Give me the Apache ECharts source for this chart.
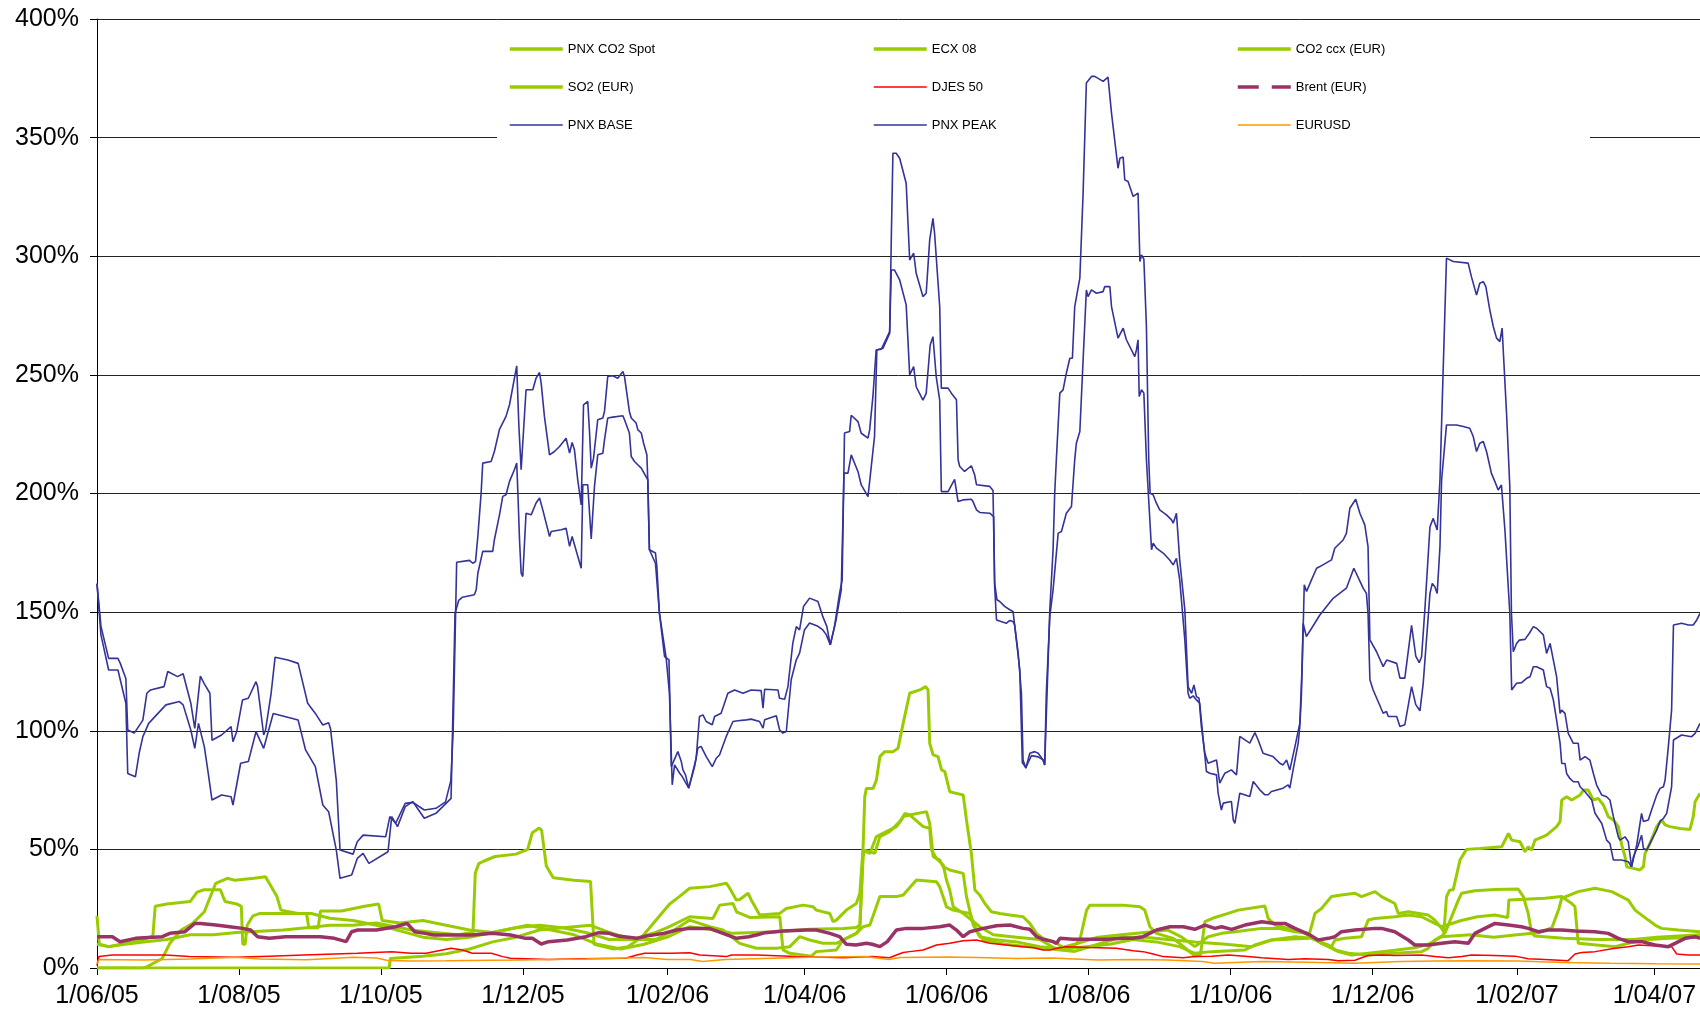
<!DOCTYPE html>
<html>
<head>
<meta charset="utf-8">
<title>Volatility</title>
<script src="https://cdn.jsdelivr.net/npm/echarts@6/dist/echarts.min.js"></script>
<style>
  html, body { margin: 0; padding: 0; background: #fff; }
  #chart { width: 1700px; height: 1015px; }
</style>
</head>
<body>
<div id="chart"></div>
<script>
// x = days since 1 Jun 2005, y = percent
const tickDays = [0, 61, 122, 183, 245, 304, 365, 426, 487, 548, 610, 669]
const tickLabels = ['1/06/05', '1/08/05', '1/10/05', '1/12/05', '1/02/06', '1/04/06',
  '1/06/06', '1/08/06', '1/10/06', '1/12/06', '1/02/07', '1/04/07']

const co2Spot = [[0,10],[5,9],[12,10],[20,11],[30,12],[40,14],[50,14],[60,15],[70,15.5],[80,16],[90,17],[100,18],[110,18],[120,19],[125,18],[135,16],[145,15],[155,14],[161.5,15],[162.5,40],[164,44],[166,45],[171,47],[180,48],[185,50],[187,57],[190,59],[191,58],[193,43],[196,38],[205,37],[212,36.5],[213.5,10],[222,8],[228,9],[234,13],[240,20],[246,27],[250,30],[254.6,33.6],[263.2,34.3],[270.4,35.7],[271.8,33.6],[274.7,28.6],[276.1,28.9],[279.7,31.5],[281.1,28.6],[284.7,22.3],[293.3,23],[296.1,25.1],[303.3,26.5],[307.6,25.8],[309,24.4],[314.8,23],[316.2,19.5],[317.6,20.2],[321.9,24.4],[326.2,27.2],[327.7,31.5],[329.1,51.1],[329.8,72.2],[330.5,75.7],[333.4,75.7],[334.8,79.2],[336.3,89.1],[338.4,91.2],[342,91.2],[344.1,92.6],[346.3,103.1],[349.1,115.8],[353.4,117.2],[356,118.6],[357,117.2],[357.7,94.7],[359.2,89.8],[361.3,89.1],[362.8,83.5],[364.2,82.8],[366.3,74.3],[369.2,73.6],[372.1,72.9],[373.5,62.4],[375.6,48.3],[377.1,32.9],[379.2,30.8],[381.4,27.2],[384.2,23.7],[387.8,23],[392.1,22.3],[397.8,21.6],[400.7,18.8],[403.6,14.6],[406.4,12.5],[412.2,10.4],[416.5,7.6],[419.3,9],[422.2,11.8],[425.1,24.4],[426.5,26.5],[440.8,26.5],[448,25.8],[450.1,24.4],[452.3,17.4],[455.1,14.6],[462.3,12.5],[468,8],[471.6,5],[474,5.5],[475.9,19.5],[480.2,21.3],[485.9,23],[490.2,24.4],[501.7,26.1],[503.1,20.9],[506,18.1],[511.7,16.7],[518.9,14.6],[521,13.2],[526,10.4],[531.8,7.6],[537.5,6.2],[546.1,5.5],[557.5,6.2],[569,6.9],[571.9,8.3],[574.7,11.8],[578.5,14],[579.7,30],[581,32.8],[582.6,33],[585.5,45.5],[588.3,50],[594.1,50.4],[603.4,51.1],[606.3,56.7],[607.7,53.9],[611.3,53.2],[613.4,49],[614.8,51.1],[616.3,49.7],[617.7,53.9],[622.7,56],[627,59.6],[628.5,61.7],[629.2,70.8],[631.3,72.2],[633.5,70.8],[637.1,72.9],[638.5,75],[640.6,75],[642.8,70.8],[644.9,71.5],[647.1,68.7],[649.2,63.8],[651.4,62.4],[653.5,59.6],[655,51.8],[656.4,46.9],[657.1,42.7],[660,42],[662.8,41.3],[664.3,42.7],[665,48.3],[667.1,52.5],[670,59.6],[672.1,62.4],[673.6,60.3],[675.7,59.6],[680,58.8],[684.3,58.4],[685.7,63.8],[686.5,70.1],[688.6,73.6]]

const ecx08 = [[0,22],[1,10],[5,9],[15,11],[20,12],[24,13.5],[25,26],[30,27],[40,28],[43,32],[46,33],[53,33],[55,28],[60,27],[62,26],[62.6,10],[63.6,10],[64.5,18],[67,22],[70,23],[90,23],[91,17],[95,17],[96,24],[105,24],[115,26],[121,27],[122.5,20],[130,19],[140,20],[150,18],[160,16],[170,15],[180,17],[190,18],[200,17],[210,15],[220,12],[230,12],[240,15],[245,17],[254.6,21.6],[264.6,20.9],[267.5,26.5],[273.2,27.2],[274.7,23.7],[280.4,21.3],[293.3,21.6],[294.7,7.6],[297.6,6.2],[306.9,5],[309,6.9],[317.6,7.6],[320.5,11.8],[326.2,14.6],[327.7,16.7],[329.1,46.9],[329.8,49.7],[334.1,48.3],[336.3,55.4],[340.5,57.5],[344.8,61.7],[346.3,63.8],[349.1,64.5],[356.3,65.9],[357.7,61],[359.2,46.9],[362,45.5],[363.5,42.7],[366.3,41.3],[372.1,39.9],[373.5,30.1],[376.4,18.1],[379.2,13.2],[385,12],[395,11],[405,9],[415,8],[425,9],[435,10],[445,12],[455,11],[465,9],[471.6,6.2],[478.8,6.9],[493.1,7.6],[497.4,9.7],[504.5,11.8],[514.6,13.2],[521.7,12.5],[528.9,9.7],[533.2,6.9],[538.9,5.5],[546.1,6.2],[557.5,7.5],[566.1,8.5],[571.9,10],[577.6,13.2],[590,14],[600,13],[610,14],[620,15],[625,17],[628,25],[629.2,29.4],[636.3,32.2],[643.5,33.6],[650.7,32.2],[657.8,28.6],[660.7,24.4],[666.4,20.2],[669.3,18.1],[672.1,16.7],[679.3,16],[688.6,15.3]]

const co2Ccx = [[0,0],[20,0],[21.4,0.5],[28,4],[31.3,10.4],[36.2,16],[41.1,18.8],[46.1,23.7],[51,35.7],[56,37.8],[59.2,37],[67.4,37.8],[72.4,38.5],[74,35.7],[77.3,30.1],[79,24.4],[86.4,23],[92.1,23],[100,21],[110,20],[120,18],[125,17],[140,13],[150,12],[160,13],[175,16],[185,18],[195,16],[205,14],[215,10],[225,8],[235,10],[245,13],[254.6,17.4],[266,16],[273.2,14.6],[291.8,15.3],[306.2,16.3],[320.5,16.7],[326.2,17.1],[327.7,18.1],[329.1,49.7],[332,48.3],[334.8,55.4],[343.4,59.6],[345.6,62.4],[347,65.2],[349.1,64.5],[354.9,59.6],[357.7,58.9],[358.5,49.7],[360.6,46.2],[363.5,43.4],[364.9,37.1],[366.3,32.9],[367.8,25.8],[372.1,23],[379.2,17.4],[385,14],[395,13],[405,12],[412,8],[420,10],[430,13],[440,14],[450,15],[460,16],[466,13],[471.6,9],[477.3,13.2],[483.1,14.6],[488.8,15.3],[500.3,16.7],[507.4,16.7],[514.6,15.3],[520.3,14.6],[526,10.4],[530.3,9],[531.8,11.8],[536.1,12.5],[543.2,13.2],[546.1,20.2],[549,20.9],[557.5,21.6],[563.3,22.3],[569,21.6],[574.7,18.8],[577.6,17.4],[586,20],[593,21.6],[600.5,22.3],[606,21.3],[606.5,28.7],[622,29.4],[629.2,30.1],[633.5,27.2],[634.9,25.8],[636.3,10.4],[652.1,9],[663.5,11.8],[675,12.5],[688.6,13]]

const so2 = [[0,0],[125.5,0],[126,4],[140,5],[150,6],[160,8],[170,11],[180,13],[190,16],[200,17],[212,18],[220,15],[230,12],[240,12],[248,16],[254.6,20.2],[263.2,17.4],[268.9,16],[276.1,10.4],[283.3,8.3],[291.8,8.3],[297.6,9],[301.9,13.2],[306.2,11.8],[311.9,10.4],[317.6,10.4],[321.9,12.5],[326.2,14.6],[329.1,17.4],[332,18.1],[336.3,30.1],[343.4,30.1],[346.3,30.8],[352,37.1],[360.6,36.4],[362,34.3],[364.9,25.8],[367.8,24.4],[374.9,23],[377.8,16],[380.7,11.8],[390,10],[400,9],[410,8],[420,7],[430,10],[440,13],[450,13],[460,12],[471.6,11],[485,10],[496,9],[504.5,11.8],[520.3,12.5],[523.2,23],[526,25.1],[530.3,30.1],[534.6,30.8],[540.4,31.5],[543.2,30.1],[549,32.2],[551.8,30.1],[554.7,28.6],[557.5,27.2],[559,23],[563.3,23.7],[571.9,22.3],[574.7,20.2],[577.6,16.7],[579,14.6],[584.8,28.6],[586.2,31.5],[591.9,32.6],[600.5,33.1],[610.5,33.3],[612.7,30.1],[614.8,23],[616.3,14.6],[617.7,13.5],[630,12.5],[645,12],[660,12],[670,13],[688.6,14]]

const djes50 = [[0,1],[0.8,4.8],[6.6,5.5],[29.6,5.5],[39.5,4.8],[59.2,4.5],[74,5],[88.8,5.5],[111.8,6.2],[126.6,6.9],[134.9,6.2],[141.4,6.2],[152.1,8.3],[157.1,7.6],[161.2,6.2],[169.4,6.2],[174.3,4.8],[177.6,4.1],[194.1,3.6],[207.2,3.9],[227,4.1],[231.9,5.5],[235.2,6.2],[246.7,6.2],[254.6,6.4],[259,5.5],[270.4,4.8],[272.5,5.5],[283.3,5.5],[300.4,4.8],[320.5,4.3],[333,4.8],[340.5,4.3],[343.4,5.5],[346.3,6.5],[349.1,6.9],[354.9,7.6],[360.6,9.7],[366.3,10.4],[372.1,11.5],[377.8,11.8],[383.5,10.4],[390.6,9.7],[397.8,9],[402,8.6],[406.4,7.6],[409.3,7.6],[412.2,8.3],[416.5,9],[426.5,8.6],[437.9,8.3],[445.1,7.3],[449.4,6.9],[453.7,5.9],[458,4.8],[466.6,4.3],[471.6,4.8],[478.8,5],[485.9,5.5],[493.1,5],[500.3,4.3],[511.7,3.6],[518.9,3.9],[528.9,3.6],[533.2,3.1],[540.4,3.3],[543.2,4.3],[546.1,5.3],[551.8,5.5],[557.5,5.3],[569,5.5],[574.7,4.8],[580.5,4.3],[586.2,4.8],[590.4,5.5],[600.5,5.3],[609.1,5],[614.8,3.9],[621.9,3.6],[632,3.1],[634.9,5.9],[637.8,6.5],[643.5,6.9],[652.1,8.3],[657.8,9],[662.1,9.7],[676.4,9],[678.6,5.9],[683.6,5.5],[688.6,5.5]]

const brent = [[0,13.2],[6.6,13.2],[9.9,11.1],[16.5,12.5],[28,13.2],[31.3,14.6],[37.8,15.3],[42,18.8],[44.4,18.8],[51,18.1],[57,17.4],[62.5,16.7],[66,16],[69,13.2],[74,12.5],[81,13.2],[88.8,13.2],[96,13.2],[102,12.5],[107,11.1],[109.4,15.3],[112,16],[120,16],[128.3,17.4],[133.2,18.8],[136.5,15.3],[141,14.6],[144.7,13.9],[161,13.9],[170,14.6],[177.6,13.9],[184.2,12.5],[187,12.5],[190.8,10.1],[194,11.1],[202,11.8],[210,13.2],[215.5,14.9],[220,14.6],[223.7,13.5],[231.9,12.5],[236,13.5],[243.4,14.6],[249,16],[254.6,16.7],[263,16.7],[268.9,14.6],[274.7,12.5],[280,13.2],[283.3,13.9],[287,14.9],[294.7,15.6],[304.7,16],[309,16],[314.8,14.6],[319,13.2],[321.9,10],[326,9.7],[330.5,10.4],[333,10],[336.3,9],[339.5,11.1],[343.4,16],[347.6,16.7],[354.9,16.7],[362,17.4],[366.3,18.1],[369.2,16],[372.1,13.2],[375,15.3],[380.7,16.7],[386.4,17.8],[392.1,18.1],[397.8,16.7],[400.7,16.3],[403.6,13.2],[406.4,12.1],[410.8,11.1],[412.2,10.4],[413.6,12.5],[419.3,12.1],[426.5,12.1],[433.6,12.1],[440.8,12.5],[445,12.5],[449.4,13.2],[455.1,16],[460.9,17.4],[466.6,17.4],[471.6,16.3],[475.9,18.1],[480.2,16.7],[483.1,17.4],[487.4,16.3],[493.1,18.1],[500.3,19.5],[506,18.8],[510.3,18.8],[514.6,16.7],[520.3,14.3],[524.6,11.8],[528.9,12.5],[531.8,13.2],[534.6,15.3],[540.4,16],[549,16.7],[551.8,16.7],[557.5,15.3],[563.3,11.8],[566.1,9.7],[571.9,9.7],[577.6,10.4],[583.3,11.1],[589.1,10.4],[591.9,14.6],[596.2,16.7],[600.5,18.8],[606.3,18.1],[611.9,17.4],[614.8,16.7],[619.1,15.3],[623.4,16],[629.2,16],[635,15.6],[643.5,15.3],[649.2,14.6],[653.5,12.5],[657.8,11.1],[663.5,11.1],[669.3,9.7],[675,9],[677.9,10.4],[682.2,12.5],[686.5,13.2],[688.6,12.5]]

const pnxBase = [[0,162],[1.7,140.4],[5,125.6],[9,125.6],[12.4,111.6],[13.2,82],[16.5,80.6],[18.1,90.5],[19.7,97.5],[22.2,103.1],[29.6,110.9],[35.4,112.3],[37,110.9],[40.3,100.3],[42,92.6],[43.6,103.1],[46.1,93.3],[47.7,82.7],[49.4,70.8],[53.5,72.9],[57.6,72.2],[58.4,68.7],[61.7,86.3],[65,87],[68.3,99.6],[71.6,92.6],[75.7,107.3],[86.4,104.5],[89.6,91.9],[93.8,84.9],[97,68.7],[99.5,65.9],[102.8,49.7],[104.4,37.8],[109.4,39.2],[111.8,46.2],[114.3,48.3],[116.8,44.1],[125,49],[126.6,63.8],[129.1,59.6],[132.4,68],[135.7,70.1],[140.6,63.1],[145.6,65.2],[152.1,71.5],[153.8,149.5],[155.4,155],[157,156.3],[162.1,157.3],[162.9,159.4],[163.6,166.4],[165.7,175.6],[170,175.6],[170.7,180.5],[172.9,191],[174.3,198.8],[175.7,199.5],[177.2,205.1],[179.3,210],[180.3,212.8],[180.8,200.2],[181.5,180.5],[182.2,166.4],[182.9,165],[184.3,191.7],[186.5,191],[188.6,196],[190.1,198.1],[191.5,193.1],[194.4,181.9],[195.1,184],[199.4,184.7],[201.5,185.4],[203,177.7],[204.1,181.9],[208,168.5],[208.7,203.7],[210.8,203.7],[212.3,180.8],[213.7,203],[215.1,216.3],[217.3,217],[218,222.6],[219.4,231.8],[221.6,232.2],[225.9,232.8],[226.6,231.1],[228.7,225.5],[229.5,215.6],[230.9,213.5],[232.3,212.1],[233.8,210.7],[236.6,205.8],[237.3,176.3],[239.9,170.6],[241.6,149.6],[244.5,130.6],[245.9,115.8],[247.1,77.2],[248.1,85.6],[250.3,82.1],[251.4,80.7],[254.2,75.8],[256.7,84.9],[258.1,92.7],[259.5,93.4],[261.7,89.1],[264.3,84.9],[266,88.4],[267.4,89.8],[270.3,97.6],[273.2,103.9],[275.3,104.2],[278.9,104.6],[281,104.9],[284.6,103.9],[286.1,101.1],[286.8,104.6],[291.8,106.3],[293.2,100.4],[294.6,99],[296.1,99.7],[298.2,121.5],[300.4,129.9],[301.8,132.7],[303.9,142.5],[306.1,145.4],[309.7,144],[311.8,142.5],[313.3,140.4],[315,136.2],[317.5,146.8],[319.7,159.4],[320.9,208.6],[322.6,208.6],[324,216.3],[326.9,209.2],[328.3,203.6],[331.2,198.7],[334,224],[335,260.5],[336.9,260.8],[340.5,268.2],[341.2,294.2],[342.6,294.2],[344.8,290],[347.6,279.5],[349.1,250],[350.8,253.5],[351.9,245],[354.8,239.4],[356.2,242.2],[357.9,262.6],[359.1,266.1],[360.5,249.3],[362,239.4],[362.7,200.8],[365.6,200.8],[366.3,200.1],[368.4,206],[369.2,206.5],[369.9,196.6],[370.6,196.2],[372,197.3],[375.6,197.6],[376.3,196.6],[377.8,193.1],[379.2,192],[383.5,191.7],[385.2,190.3],[385.6,160.8],[386.4,146.7],[387.1,146],[390.6,145.3],[392.1,146.5],[393.5,146],[394.2,144.6],[395.7,132.7],[397.1,115.8],[397.8,87.7],[399,84.2],[400.7,90.5],[402.8,91.2],[404.3,90.5],[406.4,87.7],[407.1,85.6],[407.8,115.8],[409.3,148.2],[410.7,159.4],[411.4,159.4],[412.9,183.3],[414.3,184],[416.4,191.7],[418.6,194.5],[420,214.2],[420.7,221.2],[422.2,226.1],[423.6,256.3],[425,285.8],[425.7,283],[427.2,285.8],[429.3,284.4],[432.2,285.1],[432.9,287.2],[435.1,287.2],[435.8,278.8],[438.6,265.5],[440.8,269.7],[442.2,264.8],[442.9,265.5],[445.8,257.7],[446.5,260.5],[447.2,264.8],[447.7,240.9],[448.7,243.7],[449.7,242.3],[450.8,214.2],[453,176.3],[453.7,179.1],[455.1,177],[458,174.9],[460.8,172],[462.3,169.9],[463.7,172.7],[465.1,163.6],[467.3,138.3],[468.7,115.8],[469.4,113.7],[470.9,114.7],[472.3,113],[473.7,111.6],[475.2,96.2],[476.6,82.8],[478,82.1],[480.9,81.4],[481.6,73.7],[483,66.6],[483.8,69.5],[487.3,70.2],[488.1,62.4],[488.8,61],[489.5,61.7],[490.9,73.7],[491.6,74.4],[495.2,72.3],[496.7,78.6],[497.4,78.6],[499.5,75.1],[501.7,73],[503.1,73],[504.5,74.4],[509.5,75.8],[511.7,77.2],[512.4,75.8],[513.8,83.5],[516,94.8],[516.7,101.8],[517.4,115.8],[518.1,145.3],[519.5,139.7],[523.1,145.3],[525.3,148.8],[531,155.8],[536.7,160.1],[539.9,168.5],[543.9,160.1],[545.3,157.9],[546,149.5],[546.8,121.5],[548.2,117.2],[552.5,107.4],[553.9,108.1],[554.7,106],[558.3,106],[559.7,101.8],[561.8,102.5],[564.7,118.6],[566.5,111],[568.3,108.4],[569.7,120],[572.6,157.9],[573.6,162.1],[574.7,160.7],[575.7,157.9],[576.9,177.6],[577.6,205.7],[579.7,228.9],[584,228.9],[586.9,228.2],[589.7,227.5],[591.2,224],[592.6,217.7],[594,221.2],[595.5,221.9],[596.9,217.7],[599,208.5],[600.5,205],[601.9,201.5],[603.3,203.6],[604.8,184.6],[606.9,149.5],[607.7,117.2],[608.4,116.5],[609.8,120],[612,120.3],[614.1,122.1],[615.6,122.8],[617,127],[618.4,127],[621.3,125.6],[622.7,118.6],[624.2,117.9],[625.6,113],[627,104.5],[628.5,94.7],[629.2,86.2],[630.6,86.2],[631.3,82],[632.7,79.9],[634.2,78.5],[636.3,78.5],[637.1,76.4],[639.2,74.3],[642.1,70.8],[643.5,65.2],[646.4,60.9],[648.5,53.9],[649.9,52.5],[651.4,45.5],[654.9,45.5],[657.8,44.8],[659.2,42.7],[660,46.9],[662.1,51.8],[663.5,56],[664.3,50.4],[665.7,49.7],[667.8,53.9],[670,58.1],[671.4,61.7],[672.9,63.1],[674.3,65.2],[676.4,76.4],[677.2,96.1],[680.7,98.2],[685,97.5],[686.5,98.9],[688.6,103.1]]

const pnxPeak = [[0,162],[1.7,144],[5,130.5],[9,130.5],[10,128.4],[12.4,122],[13.2,100.3],[16,99],[19.7,104.5],[21.4,115.8],[23,117.2],[28.8,118.6],[30.4,125],[34.6,122.8],[37,124],[40.3,111.6],[42,101],[42.8,100.3],[44.4,123],[46,120],[48.5,115.8],[49.4,96],[53.5,98.2],[57.6,101.7],[58.4,95.4],[60,99.6],[62.5,113],[65,113.7],[68.3,120.7],[69,118.6],[71.6,98.2],[72.4,100.3],[74.8,115.8],[76.5,131],[82,129.8],[86.4,128.4],[88.8,118.6],[90.5,111.6],[93.8,107.3],[97,102.4],[99.5,103.4],[100.3,101],[102.8,79],[104.4,49.7],[110,48],[111.8,53.2],[114.3,56],[124,55.3],[125.8,63.8],[128.3,61],[132.4,69.4],[135.7,69.8],[140.6,66.6],[145.6,67.3],[149.7,70],[152,79],[153,100],[154.5,171],[160,171.8],[161.4,170.6],[162.6,171.3],[163.6,182],[165,200],[165.7,212.8],[169.3,213.5],[170,212.8],[170.7,217.7],[172.9,227],[175.7,232.5],[177.2,237.4],[180.3,253.8],[181.2,229],[182.2,210],[182.9,209.7],[184.3,243.7],[187.2,243.7],[188.6,248.6],[190.1,251],[190.8,246.5],[192.2,232.5],[194.4,216.3],[196.5,217.7],[198.7,219.8],[201.5,223.3],[203,217],[204.1,221.5],[205.1,218.4],[206.5,205.8],[208,195.2],[209,237.4],[210.8,238.8],[211.6,225.5],[212.3,210.7],[213.3,214.9],[215.1,231.1],[217.3,231.8],[218,234.6],[219.4,249.3],[221.6,249.6],[223.7,248.6],[225.9,251.4],[226.6,249.3],[228.7,234.6],[229.5,231.8],[231.6,229.7],[232.3,226.9],[233.8,225.5],[234.8,221.2],[236.2,216.3],[236.6,205.8],[237.3,176.3],[239.9,174.9],[240.5,169.2],[241.6,149.6],[243.8,131.3],[245.7,129.9],[246.7,84.9],[249.5,91.2],[251,87],[251.7,83.5],[252.8,81.4],[254.2,75.8],[257.4,88.4],[258.8,106],[260.3,106.7],[261.7,103.9],[264.3,102.5],[265.3,106],[268.1,107.4],[271,115.8],[273.9,117.2],[277.5,115.8],[281,117.2],[285.3,116.9],[286.1,109.5],[286.8,117.5],[292.5,117.2],[293.2,113.7],[295.4,113.3],[296.8,118.6],[298.9,136.9],[300.4,143.9],[301.8,142.5],[303.5,152.4],[306.1,155.9],[309.7,154.5],[311.8,148.1],[313.5,144],[315,136.2],[316.8,143.9],[319,158],[320.1,163.6],[321.1,225.5],[323.3,226.1],[324,233],[326.9,230.3],[328.3,225.4],[331.2,223.3],[331.9,226.8],[333.3,240.8],[334.7,260.5],[337.6,261.2],[340.5,267.5],[341.2,306.9],[341.9,343.4],[343.3,343.4],[344.8,341.3],[347.6,330.8],[349.1,298.4],[350.8,301.3],[351.9,292.8],[354.8,283],[356.2,284.4],[357.7,306.9],[359.1,316],[359.8,309.7],[362,278.8],[362.7,244.4],[365.6,244.4],[367,242.3],[369.2,239.5],[369.9,214.2],[370.6,211.4],[372.7,209.3],[375.6,211.7],[377,207.9],[377.8,203.7],[383.5,203],[384.9,201.3],[385.4,200.8],[385.6,162.2],[386.6,155.2],[387.8,154.5],[389.9,152.4],[392.1,151],[393.5,150.3],[396.4,125.7],[397.5,86.5],[399,84.5],[401.4,89.5],[404.3,89],[406.4,87.7],[407.1,85.6],[409.3,151],[410.7,176.3],[411.4,200.1],[412.1,214.2],[413.6,242.3],[415,243.7],[416.4,250.7],[417.9,257],[419,257],[420,278.8],[422.2,290.8],[423.6,326.6],[425,373],[425.7,372.7],[427.2,375.8],[428.6,375.8],[432.2,373.7],[434.3,375.5],[435.1,375.1],[435.8,360.3],[438.6,337.1],[439.4,341.3],[440.8,341.8],[441.5,332.2],[442.9,331.5],[445.1,325.2],[445.8,324.5],[447.2,326.6],[448,297.8],[448.7,300.6],[449.7,298.8],[450.8,270.4],[451.8,214],[452.4,200.1],[453.7,199.4],[455.1,195.9],[456.5,193.1],[459.4,191],[461.6,188.9],[462.3,187.5],[463.7,191.7],[465.1,172],[467.3,151],[468.7,118.6],[470.2,115.8],[471.2,119.3],[472.3,114.4],[473.4,113.7],[474.4,101.8],[475.9,90.5],[477.3,86.3],[480.9,87.7],[482.3,77.9],[484.5,82.1],[487.3,83.5],[489.5,81.4],[490.9,97.6],[491.6,97.8],[495.2,94.8],[497.4,99.2],[498.8,96.1],[500.9,90.5],[503.1,89.8],[505.2,89.1],[508.1,86.3],[509.5,85.6],[511,87.7],[512.4,83.5],[514.6,93.3],[516.7,103.2],[517.8,129.9],[518.6,161.5],[519.6,158.7],[521.7,163.6],[523.9,168.5],[525.3,169.2],[530.3,172],[531.7,176.9],[535.3,180.4],[536.7,183.2],[538.2,193.8],[540.7,197.6],[542.5,191.7],[544.6,186.8],[546,177.6],[546.8,138.3],[549.6,133.4],[552.5,127],[554,129.8],[558.3,128.4],[559.7,122.2],[561.8,122.2],[564.7,144.4],[566.5,131.5],[568,128.7],[569,131.2],[570.4,150.9],[572.6,186],[574,189.5],[574.7,188.8],[575.7,184.6],[576.9,205.7],[577.6,229.6],[579.7,299.2],[580.4,299.6],[582.6,297.8],[589,297.1],[590.4,291.4],[592.6,283.7],[594,288.6],[595.5,289.3],[596.6,287.2],[598.3,277.4],[599.8,270.4],[601.2,265.5],[602.6,264],[603.6,269.7],[604.3,256.3],[605.5,233.8],[606.9,202.9],[607.6,149.5],[608.4,133.3],[609.8,136.8],[611,138.2],[613.4,138.5],[615.3,141.1],[617,143.9],[618.4,143.2],[621.3,140.4],[622.7,132.6],[624.2,136.8],[624.9,136.1],[627,122.8],[628.5,107.3],[629.2,108.7],[630.6,107.3],[632,98.9],[634.2,94.7],[636.3,94.7],[637.1,87.6],[639.2,89.1],[641.3,87.6],[642.8,82],[644.2,77.1],[646.4,72.9],[648.5,72.2],[649.9,70.8],[651.4,63.8],[653.5,55.3],[654.2,53.9],[656.4,55.3],[657.8,53.2],[659.2,42.7],[661.4,51.8],[663.5,65.2],[664.3,61.7],[666.4,62.4],[667.8,66.6],[670,72.9],[671.4,75.7],[672.9,76.4],[673.6,79.2],[675,93.3],[676.4,108.7],[677.2,144.6],[680.7,145.3],[683.6,144.6],[685.7,144.6],[687.2,146.7],[688.6,149.5]]

const eurusd = [[0,2],[1,3.6],[20,3.4],[40,3.8],[60,4.5],[70,3.8],[90,3.5],[100,4],[110,4.5],[120,4.2],[125,3.2],[135,3],[150,3.1],[180,3.4],[210,3.8],[235,4.4],[245,3.6],[255,3.6],[260,2.7],[270,3.6],[290,4.1],[310,4.6],[330,4.8],[340,3.6],[345,4.4],[365,4.6],[378,4.4],[395,4],[410,4.2],[430,3.4],[445,3.6],[460,3.4],[475,2.7],[480,2],[500,2.7],[520,2.4],[540,2],[560,2.7],[575,3],[590,3.1],[610,3],[630,2.3],[650,2],[670,1.8],[688.6,1.7]]

const font = '"Liberation Sans", Arial, sans-serif'
const green = '#99cc00'

function line(name, data, color, width) {
  return {
    name: name, type: 'line', data: data, symbol: 'none',
    lineStyle: { color: color, width: width }, itemStyle: { color: color }
  }
}

// legend entry with its own line thickness
function entry(name, width, type) {
  return { name: name, lineStyle: { width: width, type: type || 'solid' } }
}

function legendCol(left, items) {
  return {
    orient: 'vertical', left: left, top: 42.5, padding: 0,
    itemWidth: 53, itemHeight: 14, itemGap: 25,
    itemStyle: { opacity: 0 },
    textStyle: { fontFamily: font, fontSize: 13, color: '#000' },
    data: items
  }
}

const chart = echarts.init(document.getElementById('chart'))
chart.setOption({
  animation: false,
  backgroundColor: '#fff',
  grid: { left: 97, right: 0, top: 19, bottom: 47 },
  graphic: [{
    type: 'rect', z: 1,
    shape: { x: 497, y: 30, width: 1093, height: 114 },
    style: { fill: '#fff' }
  }],
  legend: [
    legendCol(508, [entry('PNX CO2 Spot', 3.5), entry('SO2 (EUR)', 3.5), entry('PNX BASE', 1.6)]),
    legendCol(872, [entry('ECX 08', 3.5), entry('DJES 50', 1.5), entry('PNX PEAK', 1.6)]),
    legendCol(1236, [entry('CO2 ccx (EUR)', 3.5), entry('Brent (EUR)', 3.5, [21, 13]), entry('EURUSD', 1.5)])
  ],
  xAxis: {
    type: 'value', min: 0, max: 688.6,
    splitLine: { show: false },
    axisLine: { lineStyle: { color: '#000', width: 1 } },
    axisTick: { customValues: tickDays, length: 7, lineStyle: { color: '#000' } },
    axisLabel: {
      customValues: tickDays, margin: 16,
      fontFamily: font, fontSize: 25, color: '#000',
      formatter: v => tickLabels[tickDays.indexOf(v)]
    }
  },
  yAxis: {
    type: 'value', min: 0, max: 400, interval: 50,
    axisLine: { show: true, lineStyle: { color: '#000', width: 1 } },
    axisTick: { show: true, length: 7, lineStyle: { color: '#000' } },
    splitLine: { lineStyle: { color: '#222', width: 1 } },
    axisLabel: { margin: 18, fontFamily: font, fontSize: 25, color: '#000', formatter: '{value}%' }
  },
  series: [
    line('PNX CO2 Spot', co2Spot, green, 3),
    line('ECX 08', ecx08, green, 3),
    line('CO2 ccx (EUR)', co2Ccx, green, 3),
    line('SO2 (EUR)', so2, green, 3),
    line('DJES 50', djes50, '#ff0000', 1.5),
    line('Brent (EUR)', brent, '#993366', 3.5),
    line('PNX BASE', pnxBase, '#333399', 1.6),
    line('PNX PEAK', pnxPeak, '#333399', 1.6),
    line('EURUSD', eurusd, '#ff9900', 1.5)
  ]
})
</script>
</body>
</html>
